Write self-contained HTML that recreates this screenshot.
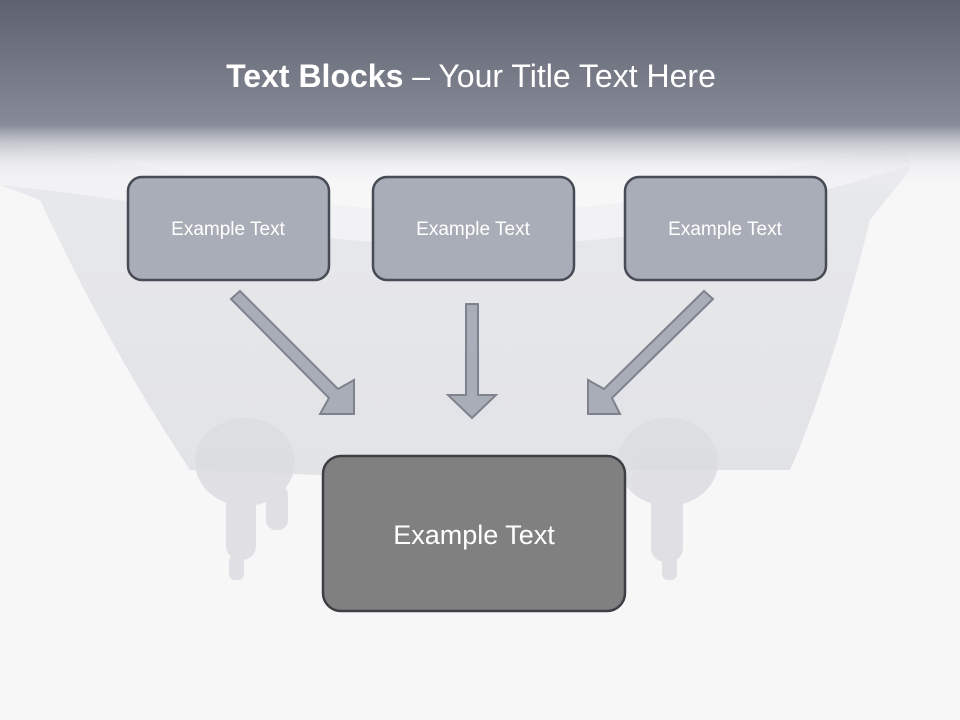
<!DOCTYPE html>
<html><head><meta charset="utf-8"><style>
html,body{margin:0;padding:0}
body{width:960px;height:720px;overflow:hidden;background:#f7f7f8;font-family:"Liberation Sans",sans-serif;position:relative}
</style></head><body>
<svg width="960" height="720" style="position:absolute;left:0;top:0">
<defs>
<linearGradient id="hd" x1="0" y1="0" x2="0" y2="1">
<stop offset="0" stop-color="#5e626e"/>
<stop offset="0.64" stop-color="#878b98"/>
<stop offset="0.72" stop-color="#b8bbc3" stop-opacity="0.9"/>
<stop offset="0.85" stop-color="#e8e9ec" stop-opacity="0.5"/>
<stop offset="1" stop-color="#f7f7f8" stop-opacity="0"/>
</linearGradient>
<linearGradient id="tub" x1="0" y1="0" x2="0" y2="1">
<stop offset="0" stop-color="#e8e9ec"/>
<stop offset="1" stop-color="#e2e3e6"/>
</linearGradient>
</defs>
<path d="M0,150 Q200,180 300,235 Q470,255 640,235 Q760,200 905,150 L910,170 L870,220 Q830,380 790,470 L640,470 L320,475 L190,470 Q110,350 40,200 L0,185 Z" fill="url(#tub)"/>
<path d="M0,140 Q150,165 300,200 Q470,225 640,200 Q780,170 900,145 L912,165 Q780,205 640,235 Q470,255 300,235 Q150,200 0,185 Z" fill="#f2f2f4"/>
<g fill="#dcdde1" opacity="0.85">
<ellipse cx="245" cy="462" rx="50" ry="44"/>
<rect x="226" y="490" width="30" height="70" rx="14"/>
<rect x="229" y="555" width="15" height="25" rx="6"/>
<rect x="266" y="485" width="22" height="45" rx="10"/>
<ellipse cx="668" cy="462" rx="50" ry="44"/>
<rect x="651" y="490" width="32" height="72" rx="14"/>
<rect x="662" y="555" width="15" height="25" rx="6"/>
</g>
<rect x="0" y="0" width="960" height="195" fill="url(#hd)"/>
<g fill="#a9adb7" stroke="#7e828c" stroke-width="2" stroke-linejoin="miter">
<polygon points="231,299 240,291 338,389 354,380 354,414 320,414 329,398"/>
<polygon points="466,304 478,304 478,395 496,395 472,418 448,395 466,395"/>
<polygon points="704,291 713,299 612,398 620,414 588,414 588,380 604,389"/>
</g>
<g stroke="#474b55" stroke-width="2.5" fill="#a9adb7">
<rect x="128" y="177" width="201" height="103" rx="14"/>
<rect x="373" y="177" width="201" height="103" rx="14"/>
<rect x="625" y="177" width="201" height="103" rx="14"/>
</g>
<rect x="323" y="456" width="302" height="155" rx="18" fill="#808080" stroke="#3d3f45" stroke-width="2.5"/>
<g fill="#fff" font-family="Liberation Sans, sans-serif" text-anchor="middle">
<text x="228" y="235" font-size="19">Example Text</text>
<text x="473" y="235" font-size="19">Example Text</text>
<text x="725" y="235" font-size="19">Example Text</text>
<text x="474" y="544" font-size="27">Example Text</text>
<text x="471" y="87" font-size="32"><tspan font-weight="bold">Text Blocks</tspan> – Your Title Text Here</text>
</g>
</svg>
</body></html>
